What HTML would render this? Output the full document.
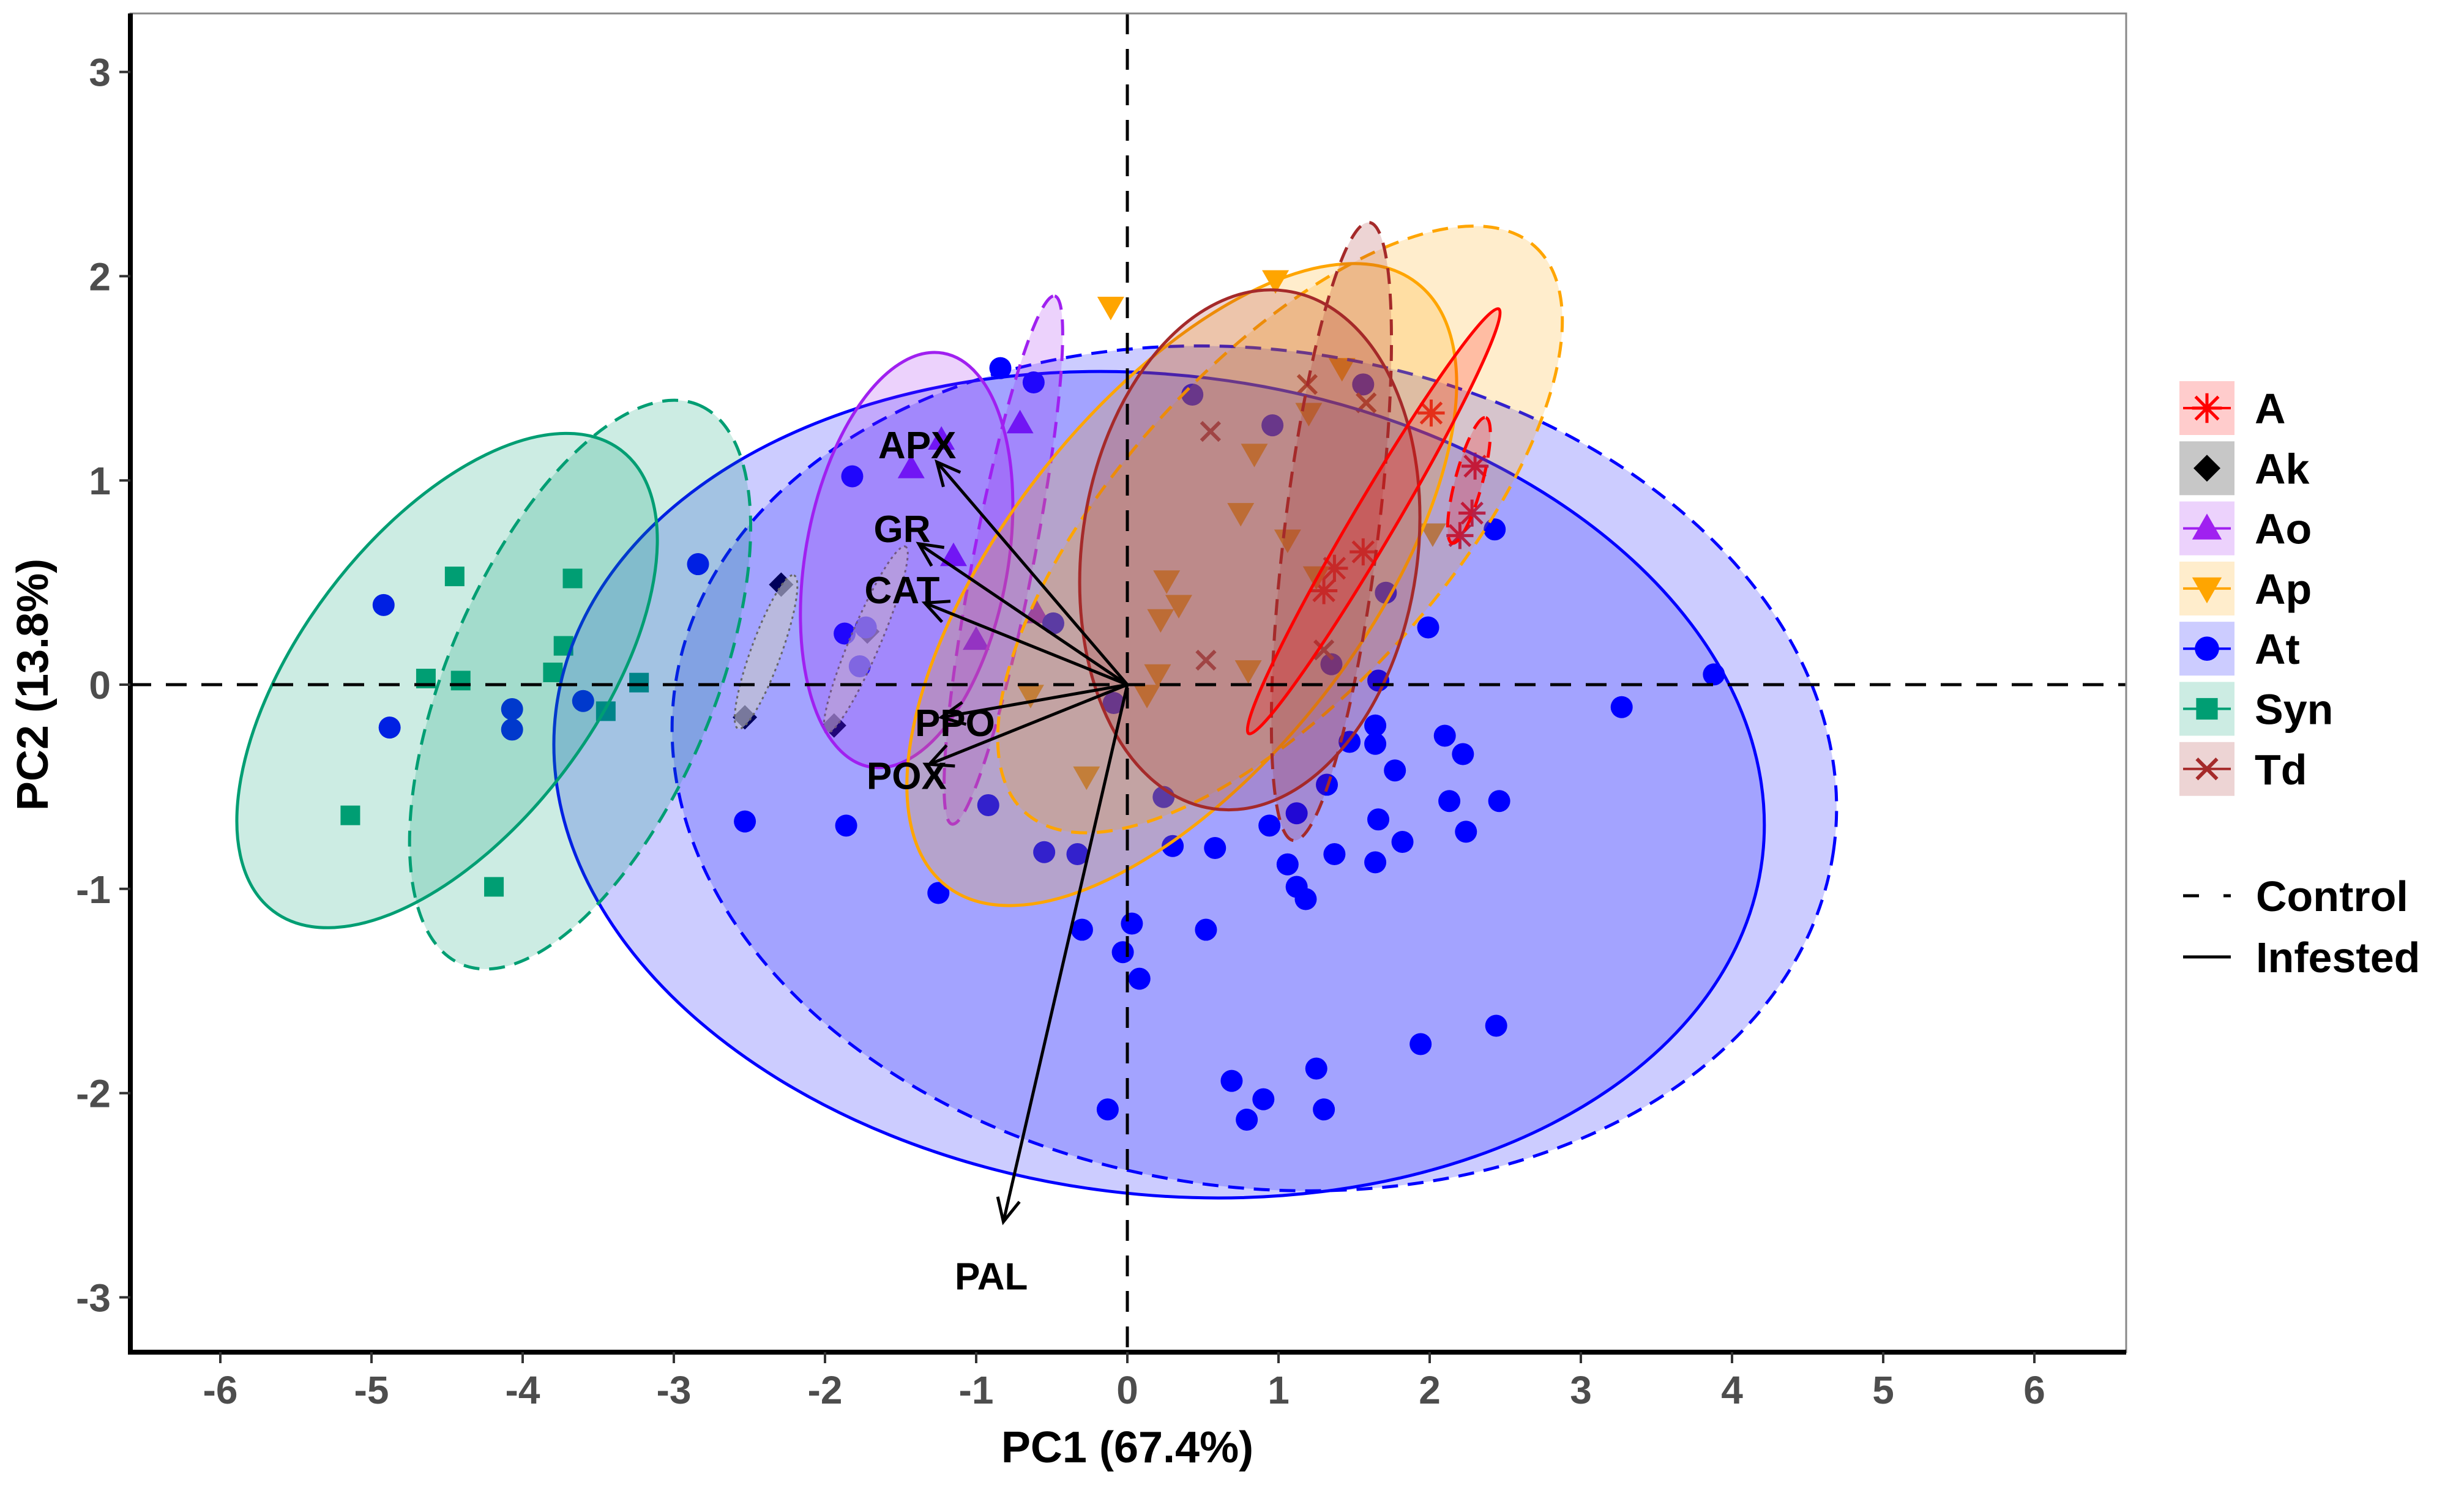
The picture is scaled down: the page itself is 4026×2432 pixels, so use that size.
<!DOCTYPE html>
<html><head><meta charset="utf-8"><style>
html,body{margin:0;padding:0;background:#fff;}
svg{display:block;font-family:"Liberation Sans",Arial,sans-serif;}
</style></head><body>
<svg id="chart" width="4026" height="2432" viewBox="0 0 4026 2432" xmlns="http://www.w3.org/2000/svg">
<rect x="0" y="0" width="4026" height="2432" fill="#fff"/>
<g id="plot"></g>
<g id="axes"></g>
<g id="legend"></g>
</svg>
<script>
const xTicks=[-6,-5,-4,-3,-2,-1,0,1,2,3,4,5,6];
const yTicks=[-3,-2,-1,0,1,2,3];
const groups=['A','Ak','Ao','Ap','At','Syn','Td'];
const colors={A:'#ff0000',Ak:'#000000',Ao:'#a020f0',Ap:'#ffa500',At:'#0000ff',Syn:'#009e73',Td:'#a52a2a'};
const ptsA=[[2.01,1.33],[2.30,1.07],[2.28,0.84],[2.20,0.73],[1.30,0.46],[1.56,0.65],[1.37,0.57]];
const ptsAk=[[-2.29,0.49],[-2.53,-0.16],[-1.94,-0.20],[-1.72,0.26]];
const ptsAo=[[-1.43,1.06],[-1.23,1.20],[-0.71,1.28],[-1.15,0.63],[-1.00,0.22],[-0.60,0.35]];
const ptsAp=[[-0.11,1.85],[0.98,1.98],[0.84,1.13],[0.75,0.84],[1.06,0.71],[0.26,0.51],[0.34,0.39],[0.22,0.32],[0.20,0.05],[0.13,-0.05],[0.80,0.07],[-0.64,-0.05],[-0.27,-0.45],[1.25,0.53],[2.02,0.74],[1.20,1.33],[1.42,1.55]];
const ptsAt=[[-0.84,1.55],[-0.62,1.48],[-1.82,1.02],[-2.84,0.59],[-4.92,0.39],[-4.88,-0.21],[-4.07,-0.12],[-4.07,-0.22],[-3.60,-0.08],[-2.53,-0.67],[-1.86,-0.69],[-1.73,0.28],[-1.87,0.25],[-1.77,0.09],[-1.25,-1.02],[-0.92,-0.59],[-0.55,-0.82],[-0.33,-0.83],[-0.49,0.30],[-0.30,-1.20],[0.03,-1.17],[-0.03,-1.31],[0.08,-1.44],[0.52,-1.20],[-0.13,-2.08],[0.69,-1.94],[0.90,-2.03],[0.79,-2.13],[1.25,-1.88],[1.30,-2.08],[0.43,1.42],[1.56,1.47],[0.96,1.27],[0.24,-0.55],[0.30,-0.79],[0.58,-0.80],[1.06,-0.88],[1.12,-0.99],[1.18,-1.05],[1.37,-0.83],[0.94,-0.69],[1.12,-0.63],[1.32,-0.49],[1.47,-0.28],[1.64,-0.29],[1.66,0.02],[1.71,0.45],[1.64,-0.20],[1.77,-0.42],[1.66,-0.66],[1.82,-0.77],[1.64,-0.87],[1.99,0.28],[2.10,-0.25],[2.22,-0.34],[2.13,-0.57],[2.24,-0.72],[2.46,-0.57],[2.43,0.76],[3.27,-0.11],[3.88,0.05],[1.94,-1.76],[2.44,-1.67],[-0.09,-0.09],[1.35,0.10]];
const ptsSyn=[[-4.45,0.53],[-3.67,0.52],[-3.73,0.19],[-3.80,0.06],[-4.64,0.03],[-4.41,0.02],[-3.45,-0.13],[-3.23,0.01],[-5.14,-0.64],[-4.19,-0.99]];
const ptsTd=[[1.19,1.47],[0.55,1.24],[0.52,0.12],[1.30,0.17],[1.58,1.38]];
const ellGroup=['At','At','Syn','Syn','Ak','Ak','Ao','Ao','Ap','Ap','Td','Td','A','A'];
const ellCtl=[false,true,false,true,true,false,false,true,false,true,false,true,false,true];
const ellCx=[0.21,0.84,-4.5,-3.62,-2.39,-1.73,-1.46,-0.82,0.36,1.01,0.81,1.35,1.63,2.26];
const ellCy=[-0.49,-0.41,0.02,0.0,0.16,0.22,0.61,0.61,0.49,0.76,0.66,0.75,0.80,1.0];
const ellA=[4.02,3.87,1.91,2.01,0.54,0.67,1.39,1.78,2.53,2.52,1.73,2.06,1.63,0.43];
const ellB=[2.71,2.77,0.98,0.88,0.10,0.10,0.67,0.20,1.19,1.08,1.11,0.31,0.14,0.09];
const ellAng=[7,8,-53,-67,-70,-67,-80,-79,-52,-48,-82,-83,-59.5,-75];
const varNames=['APX','GR','CAT','PPO','POX','PAL'];
const varX=[-1.26,-1.38,-1.34,-1.23,-1.31,-0.82];
const varY=[1.09,0.69,0.40,-0.16,-0.39,-2.63];
const labX=[-1.39,-1.49,-1.49,-1.14,-1.46,-0.90];
const labY=[1.17,0.76,0.46,-0.19,-0.45,-2.90];

const NS='http://www.w3.org/2000/svg';
const L=213,R=3474,T=22,B=2210,X0=1842,UX=247,Y0=1119,UY=333.8;
const sx=v=>X0+UX*v, sy=v=>Y0-UY*v;
function mk(tag,attrs,parent){const e=document.createElementNS(NS,tag);for(const k in attrs)e.setAttribute(k,attrs[k]);parent.appendChild(e);return e;}
const plot=document.getElementById('plot'),axes=document.getElementById('axes'),leg=document.getElementById('legend');

function marker(g,x,y,parent,s){
  s=s||1;const c=colors[g];let e;
  if(g==='At'){e=mk('circle',{cx:x,cy:y,r:18*s,fill:c},parent);}
  else if(g==='Syn'){e=mk('rect',{x:x-16*s,y:y-16*s,width:32*s,height:32*s,fill:c},parent);}
  else if(g==='Ak'){const r=20*s;e=mk('polygon',{points:`${x},${y-r} ${x+r},${y} ${x},${y+r} ${x-r},${y}`,fill:c},parent);}
  else if(g==='Ao'){const r=22*s;e=mk('polygon',{points:`${x},${y-r} ${x+r},${y+r*0.75} ${x-r},${y+r*0.75}`,fill:c},parent);}
  else if(g==='Ap'){const r=22*s;e=mk('polygon',{points:`${x},${y+r} ${x+r},${y-r*0.75} ${x-r},${y-r*0.75}`,fill:c},parent);}
  else if(g==='Td'){const r=15*s;e=mk('path',{d:`M${x-r},${y-r}L${x+r},${y+r}M${x-r},${y+r}L${x+r},${y-r}`,stroke:c,'stroke-width':6},parent);}
  else {const r=17*s;e=mk('path',{d:`M${x-r},${y-r}L${x+r},${y+r}M${x-r},${y+r}L${x+r},${y-r}M${x},${y-r*1.3}L${x},${y+r*1.3}M${x-r*1.3},${y}L${x+r*1.3},${y}`,stroke:c,'stroke-width':5},parent);}
  return e;
}
const ptsMap={A:ptsA,Ak:ptsAk,Ao:ptsAo,Ap:ptsAp,At:ptsAt,Syn:ptsSyn,Td:ptsTd};
const pg=mk('g',{},plot);


groups.forEach(g=>{ptsMap[g].forEach(p=>{const e=marker(g,sx(p[0]),sy(p[1]),pg);
  
  });});
const eg=mk('g',{},plot);


ellGroup.forEach((g,i)=>{
  const c=colors[g];const dash=ellCtl[i]?(g==='Ak'?'4 6':'26 16'):(g==='Ak'?'4 6':'none');
  const e=mk('ellipse',{cx:0,cy:0,rx:ellA[i]*UX,ry:ellB[i]*UX,transform:`translate(${sx(ellCx[i])},${sy(ellCy[i])}) rotate(${ellAng[i]})`,
    fill:g==='Ak'?'#c8c8c8':c,'fill-opacity':g==='Ak'?0.6:0.2,stroke:g==='Ak'?'#666':c,'stroke-width':g==='Ak'?3:5,'stroke-dasharray':dash},eg);
  
  
});
const z1=mk('line',{x1:L,x2:R,y1:sy(0),y2:sy(0),stroke:'#000','stroke-width':5,'stroke-dasharray':'34 24'},plot);


const z2=mk('line',{x1:sx(0),x2:sx(0),y1:T,y2:B,stroke:'#000','stroke-width':5,'stroke-dasharray':'34 24'},plot);


varNames.forEach((n,i)=>{
  const x2=sx(varX[i]),y2=sy(varY[i]),x1=sx(0),y1=sy(0);
  const ag=mk('g',{},plot);
  
  
  mk('line',{x1,y1,x2,y2,stroke:'#000','stroke-width':5},ag);
  const a=Math.atan2(y2-y1,x2-x1),h=42,w=0.45;
  mk('path',{d:`M${x2-h*Math.cos(a-w)},${y2-h*Math.sin(a-w)}L${x2},${y2}L${x2-h*Math.cos(a+w)},${y2-h*Math.sin(a+w)}`,stroke:'#000','stroke-width':5,fill:'none'},ag);
  const t=mk('text',{x:sx(labX[i]),y:sy(labY[i]),'text-anchor':'middle','dominant-baseline':'central','font-size':62,'font-weight':'bold',fill:'#000'},plot);
  t.textContent=n;
  
  
});
const br=mk('rect',{x:L,y:T,width:R-L,height:B-T,fill:'none',stroke:'#888','stroke-width':3},axes);


mk('line',{x1:L,x2:L,y1:T,y2:B+4,stroke:'#000','stroke-width':8},axes);
mk('line',{x1:L-4,x2:R,y1:B,y2:B,stroke:'#000','stroke-width':8},axes);
xTicks.forEach(v=>{mk('line',{x1:sx(v),x2:sx(v),y1:B,y2:B+18,stroke:'#333','stroke-width':4},axes);
  const t=mk('text',{x:sx(v),y:B+84,'text-anchor':'middle','font-size':64,'font-weight':'bold',fill:'#4d4d4d'},axes);
  t.textContent=v;
  
  });
yTicks.forEach(v=>{mk('line',{x1:L-18,x2:L,y1:sy(v),y2:sy(v),stroke:'#333','stroke-width':4},axes);
  const t=mk('text',{x:L-32,y:sy(v)+23,'text-anchor':'end','font-size':64,'font-weight':'bold',fill:'#4d4d4d'},axes);
  t.textContent=v;
  
  });
const xt=mk('text',{x:1842,y:2390,'text-anchor':'middle','font-size':72,'font-weight':'bold',fill:'#000'},axes);
xt.textContent='PC1 (67.4%)';


const yt=mk('text',{x:0,y:0,transform:'translate(78,1119) rotate(-90)','text-anchor':'middle','font-size':72,'font-weight':'bold',fill:'#000'},axes);
yt.textContent='PC2 (13.8%)';


groups.forEach((g,i)=>{
  const cy=667+98.3*i;
  const lg=mk('g',{},leg);
  
  
  mk('rect',{x:3561,y:cy-44,width:90,height:88,fill:colors[g],'fill-opacity':g==='Ak'?0.22:0.2},lg);
  if(g!=='Ak')mk('line',{x1:3567,x2:3645,y1:cy,y2:cy,stroke:colors[g],'stroke-width':4},lg);
  marker(g,3606,cy,lg,1.1);
  const t=mk('text',{x:3684,y:cy+25,'font-size':70,'font-weight':'bold',fill:'#000'},lg);t.textContent=g;
});
[['Control','26 40',1464],['Infested','none',1564]].forEach(([n,d,cy])=>{
  const lg=mk('g',{},leg);
  
  
  mk('line',{x1:3567,x2:3645,y1:cy,y2:cy,stroke:'#000','stroke-width':5,'stroke-dasharray':d},lg);
  const t=mk('text',{x:3686,y:cy+25,'font-size':70,'font-weight':'bold',fill:'#000'},lg);t.textContent=n;
});
</script>
</body></html>
